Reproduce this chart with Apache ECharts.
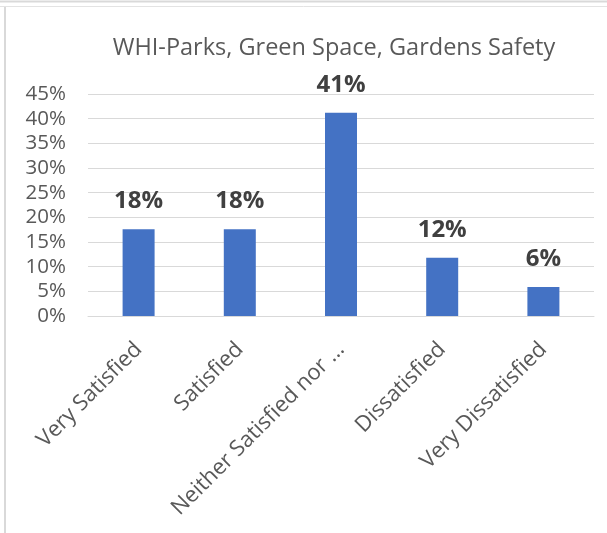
<!DOCTYPE html>
<html>
<head>
<meta charset="utf-8">
<script src="https://cdn.jsdelivr.net/npm/echarts@6/dist/echarts.min.js"></script>
<style>
html,body{margin:0;padding:0;background:#fff;}
#chart{width:607px;height:533px;}
</style>
</head>
<body>
<div id="chart"></div>
<script>
var titleText = "WHI-Parks, Green Space, Gardens Safety";
var categories = ["Very Satisfied", "Satisfied", "Neither Satisfied nor ...", "Dissatisfied", "Very Dissatisfied"];
var values = [0.176, 0.176, 0.412, 0.118, 0.059];
var yMin = 0, yMax = 0.45, yStep = 0.05;

var chart = echarts.init(document.getElementById('chart'));
var fontFam = '"Open Sans", "Noto Sans", sans-serif';
chart.setOption({
  animation: false,
  backgroundColor: '#ffffff',
  title: {
    text: titleText,
    left: 329, top: 31, textAlign: 'center',
    textStyle: {fontFamily: fontFam, fontSize: 23.5, fontWeight: 'normal', color: '#595959'}
  },
  grid: {left: 88, right: 13, top: 94, bottom: 217, containLabel: false},
  xAxis: {
    type: 'category',
    data: categories,
    axisLine: {show: true, lineStyle: {color: '#d9d9d9', width: 1}},
    axisTick: {show: false},
    axisLabel: {rotate: 45, interval: 0, margin: 30, fontFamily: fontFam, fontSize: 22, color: '#595959'}
  },
  yAxis: {
    type: 'value',
    min: yMin, max: yMax, interval: yStep,
    axisLine: {show: false},
    axisTick: {show: false},
    splitLine: {lineStyle: {color: '#d9d9d9', width: 1}},
    axisLabel: {
      margin: 22, fontFamily: fontFam, fontSize: 20.5, color: '#595959',
      formatter: function (v) { return Math.round(v * 100) + '%'; }
    }
  },
  series: [{
    type: 'bar',
    data: values,
    barWidth: 32,
    itemStyle: {color: '#4472c4'},
    label: {
      show: true, position: 'top', distance: 16,
      fontFamily: fontFam, fontSize: 24, fontWeight: 'bold', color: '#404040',
      formatter: function (p) { return Math.round(p.value * 100) + '%'; }
    }
  }],
  graphic: [
    {type: 'line', shape: {x1: 0, y1: 1.5, x2: 607, y2: 1.5}, style: {stroke: '#d9d9d9', lineWidth: 2}, silent: true},
    {type: 'line', shape: {x1: 0, y1: 6.5, x2: 607, y2: 6.5}, style: {stroke: '#e3e3e3', lineWidth: 1}, silent: true},
    {type: 'line', shape: {x1: 5, y1: 7, x2: 5, y2: 533}, style: {stroke: '#d9d9d9', lineWidth: 2}, silent: true}
  ]
});
</script>
</body>
</html>
